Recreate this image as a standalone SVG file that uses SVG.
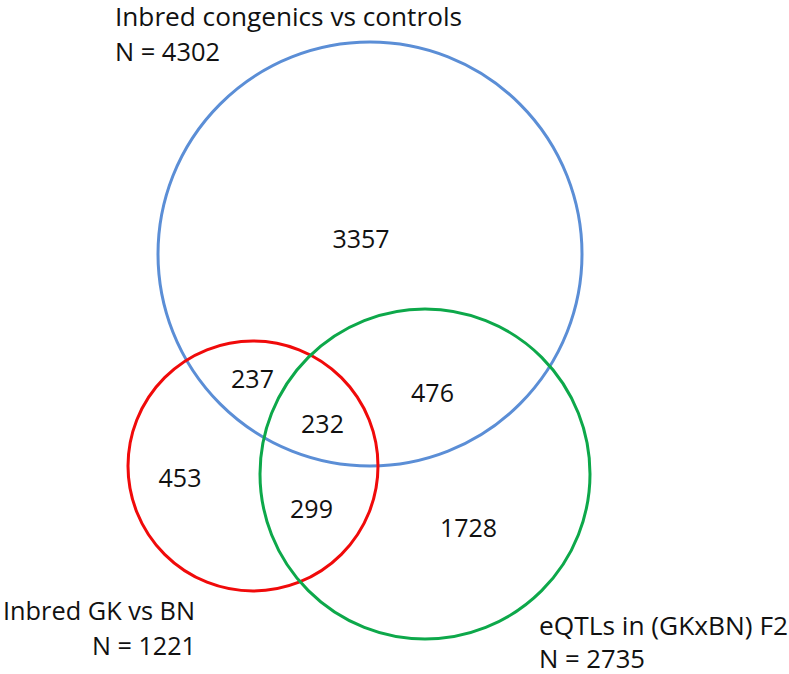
<svg xmlns="http://www.w3.org/2000/svg" width="789" height="674" viewBox="0 0 789 674">
<style>
.c{fill:none;stroke-width:3}
.t{font-family:"Open Sans","Liberation Sans",sans-serif;font-size:25px;fill:#111}
.n{text-anchor:middle}
</style>
<rect width="789" height="674" fill="#fff"/>
<g id="connectors"/>
<g id="set-congenics">
<circle class="c" cx="370" cy="254" r="212" stroke="#5B8ED6"/>
<text class="t" x="115" y="26" textLength="347" lengthAdjust="spacingAndGlyphs">Inbred congenics vs controls</text>
<text class="t" x="115" y="61" textLength="105" lengthAdjust="spacingAndGlyphs">N = 4302</text>
</g>
<g id="set-gkbn">
<circle class="c" cx="253" cy="466" r="125" stroke="#F00A0A"/>
<text class="t" x="3" y="620" textLength="192" lengthAdjust="spacingAndGlyphs">Inbred GK vs BN</text>
<text class="t" x="92" y="655" textLength="104" lengthAdjust="spacingAndGlyphs">N = 1221</text>
</g>
<g id="set-eqtl">
<circle class="c" cx="425" cy="474" r="165" stroke="#0DA84A"/>
<text class="t" x="539" y="635" textLength="249" lengthAdjust="spacingAndGlyphs">eQTLs in (GKxBN) F2</text>
<text class="t" x="539" y="668" textLength="106" lengthAdjust="spacingAndGlyphs">N = 2735</text>
</g>
<g id="counts">
<text class="t n" x="361" y="248">3357</text>
<text class="t n" x="252.5" y="388">237</text>
<text class="t n" x="322.5" y="433">232</text>
<text class="t n" x="432.5" y="402">476</text>
<text class="t n" x="180" y="487">453</text>
<text class="t n" x="311.5" y="518">299</text>
<text class="t n" x="468.5" y="537">1728</text>
</g>
</svg>
